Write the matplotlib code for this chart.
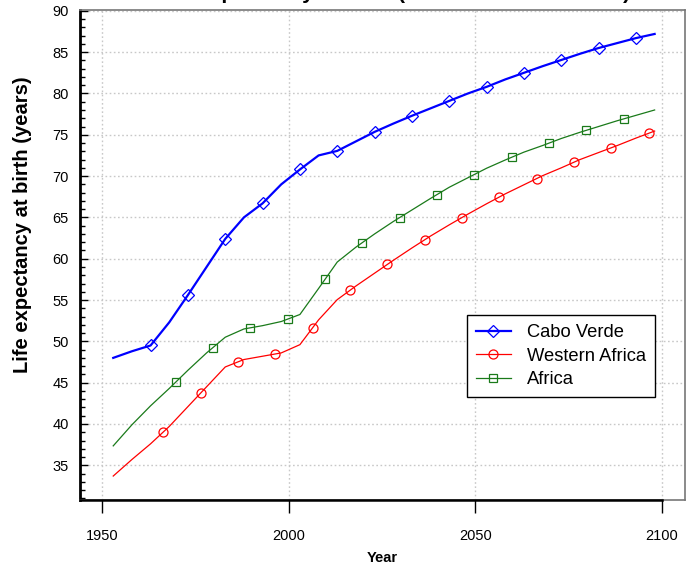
import numpy as np
import matplotlib
matplotlib.use("Agg")
import matplotlib.pyplot as plt
from matplotlib.lines import Line2D
from matplotlib.ticker import MultipleLocator

plt.rcParams['font.family'] = ['Liberation Sans', 'DejaVu Sans']

# 5-year period midpoints
years = [1953, 1958, 1963, 1968, 1973, 1978, 1983, 1988, 1993, 1998,
         2003, 2008, 2013, 2018, 2023, 2028, 2033, 2038, 2043, 2048,
         2053, 2058, 2063, 2068, 2073, 2078, 2083, 2088, 2093, 2098]

cabo_verde = [48.0, 48.8, 49.5, 52.3, 55.6, 59.0, 62.4, 65.0, 66.7, 69.0,
              70.8, 72.5, 73.05, 74.2, 75.35, 76.35, 77.3, 78.2, 79.1, 80.0,
              80.8, 81.7, 82.5, 83.3, 84.05, 84.8, 85.5, 86.1, 86.7, 87.2]

western_africa = [33.7, 35.7, 37.6, 39.7, 42.1, 44.5, 46.9, 47.8, 48.2, 48.6,
                  49.6, 52.6, 55.05, 56.7, 58.25, 59.8, 61.3, 62.75, 64.1, 65.4,
                  66.65, 67.85, 68.95, 70.05, 71.0, 72.0, 72.85, 73.7, 74.6, 75.45]

africa = [37.35, 39.9, 42.2, 44.3, 46.5, 48.6, 50.5, 51.5, 51.9, 52.4,
          53.25, 56.4, 59.6, 61.4, 63.0, 64.5, 65.9, 67.3, 68.65, 69.8,
          70.95, 71.95, 72.9, 73.7, 74.55, 75.3, 76.0, 76.7, 77.35, 78.0]

labels = ['Cabo Verde', 'Western Africa', 'Africa']
series = [cabo_verde, western_africa, africa]
colors = ['#0000ff', '#ff0000', '#1a7a1a']
markers = ['D', 'o', 's']
widths = [1.6, 0.9, 0.9]
msizes = [6, 6.5, 6]
# markers are staggered along each line, one every 10 years
mark_start = [1963.0, 1966.4, 1969.7]
mark_step = 10

fig = plt.figure(figsize=(6.97, 5.70), dpi=100)
ax = fig.add_axes([80 / 697, 1 - 500 / 570, 604.5 / 697, 490 / 570])

for vals, col, mk, lw, ms, m0 in zip(series, colors, markers, widths, msizes, mark_start):
    ax.plot(years, vals, color=col, lw=lw, zorder=3)
    mx = np.arange(m0, years[-1], mark_step)
    my = np.interp(mx, years, vals)
    ax.plot(mx, my, ls='none', marker=mk, ms=ms, mfc='none', mec=col, mew=0.9, zorder=4)

ax.set_xlim(1944.1, 2106.0)
ax.set_ylim(30.8, 90.1)
ax.set_xticks([1950, 2000, 2050, 2100])
ax.yaxis.set_major_locator(MultipleLocator(5))
ax.yaxis.set_minor_locator(MultipleLocator(1))
ax.set_yticks(np.arange(35, 91, 5))

ax.grid(True, color='#c8c8c8', ls=(0, (1.2, 1.8)), lw=1.0, zorder=0)

ax.tick_params(axis='x', direction='out', length=9, width=1, pad=12, labelsize=10.5)
ax.tick_params(axis='y', which='major', direction='in', length=6, width=1, pad=8, labelsize=10.5)
ax.tick_params(axis='y', which='minor', direction='in', length=3.5, width=1)

for side in ['top', 'right']:
    ax.spines[side].set_color('#777777')
    ax.spines[side].set_linewidth(1.2)
ax.spines['left'].set_color('black')
ax.spines['left'].set_linewidth(2.0)
ax.spines['bottom'].set_color('#777777')
ax.spines['bottom'].set_linewidth(1.2)
# black axis line under the data range, R style
x0, x1 = ax.get_xlim()
ax.axhline(ax.get_ylim()[0], xmin=0, xmax=(2100 - x0) / (x1 - x0), color='black', lw=1.8, clip_on=False, zorder=5)

ax.set_xlabel('Year', fontsize=10.5, fontweight='bold', labelpad=6)
ax.set_ylabel('Life expectancy at birth (years)', fontsize=14.5, fontweight='bold')
ax.yaxis.set_label_coords(-0.08, 0.561)

fig.text(0.563, 1.002, 'Life expectancy at birth (both sexes combined)',
         ha='center', va='baseline', fontsize=15.3, fontweight='bold')

handles = [Line2D([], [], color=c, lw=lw, marker=m, ms=ms, mfc='none', mec=c, mew=0.9)
           for c, lw, m, ms in zip(colors, widths, markers, msizes)]
leg = ax.legend(handles, labels, loc='upper left', bbox_to_anchor=(0.6397, 0.378),
                borderaxespad=0, fontsize=13.2, fancybox=False, framealpha=1,
                edgecolor='black', handlelength=1.9, handletextpad=0.9,
                labelspacing=0.36, borderpad=0.5)
leg.get_frame().set_linewidth(1.0)

fig.savefig('out.png', dpi=100)
